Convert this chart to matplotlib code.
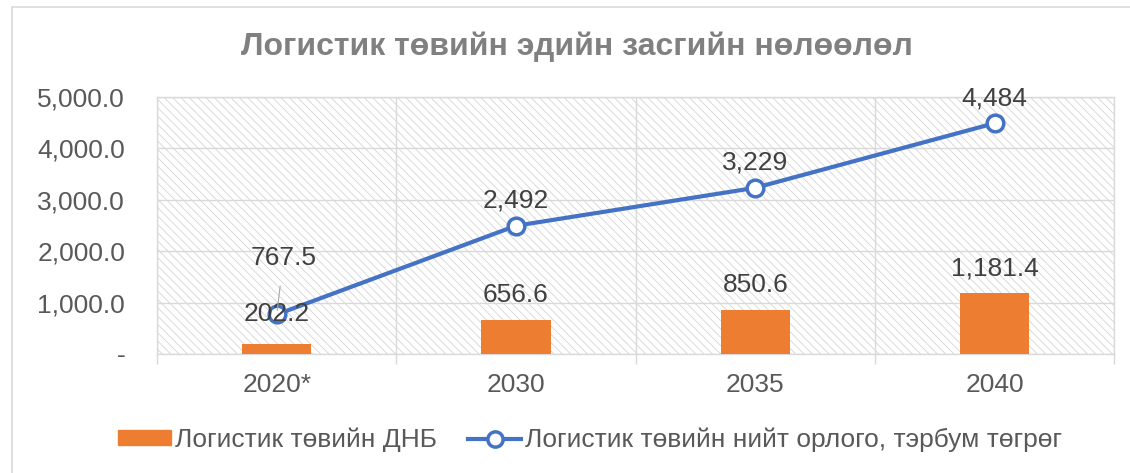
import matplotlib.pyplot as plt
from matplotlib.patches import Rectangle
from matplotlib.lines import Line2D
from matplotlib.ticker import FuncFormatter
import numpy as np

plt.rcParams['font.family'] = ['Liberation Sans', 'DejaVu Sans']
plt.rcParams['hatch.linewidth'] = 0.6

# data
years = ['2020*', '2030', '2035', '2040']
gdp = [202.2, 656.6, 850.6, 1181.4]
income = [767.5, 2492, 3229, 4484]
income_labels = ['767.5', '2,492', '3,229', '4,484']
gdp_labels = ['202.2', '656.6', '850.6', '1,181.4']

title = 'Логистик төвийн эдийн засгийн нөлөөлөл'
gdp_name = 'Логистик төвийн ДНБ'
income_name = 'Логистик төвийн нийт орлого, тэрбум төгрөг'

orange = '#ED7D31'
blue = '#4472C4'
text_col = '#595959'
label_col = '#404040'
grid_col = '#d9d9d9'

fig = plt.figure(figsize=(11.3, 4.73), dpi=100)
ax = fig.add_axes([0.139, 0.2516, 0.847, 0.544])

# outer chart border (cropped at right/bottom)
fig.patches.append(Rectangle((12 / 1130, -0.2), 1.2, 1.2 - 7 / 473,
                             transform=fig.transFigure, fill=False,
                             edgecolor=grid_col, lw=1.2))

# hatched plot area
ax.patch.set_alpha(0)
ax.add_patch(Rectangle((0, 0), 1, 1, transform=ax.transAxes, facecolor='white',
                       edgecolor='#d4d4d4', hatch='\\\\\\\\', lw=0, zorder=0))

x = np.arange(len(years))
ax.bar(x, gdp, width=0.29, color=orange, zorder=3)
ax.plot(x, income, color=blue, lw=3, marker='o', markersize=12,
        markerfacecolor='white', markeredgecolor=blue, markeredgewidth=2.5, zorder=4)

# data labels
for i in range(len(years)):
    ax.annotate(gdp_labels[i], (x[i], gdp[i]), xytext=(0, 18 if i else 21),
                textcoords='offset points', ha='center', va='center',
                fontsize=19, color=label_col, zorder=5)
for i in range(1, len(years)):
    ax.annotate(income_labels[i], (x[i], income[i]), xytext=(0, 18),
                textcoords='offset points', ha='center', va='center',
                fontsize=19, color=label_col, zorder=5)
ax.annotate(income_labels[0], (x[0], income[0]), xytext=(5, 41),
            textcoords='offset points', ha='center', va='center',
            fontsize=19, color=label_col, zorder=5,
            arrowprops=dict(arrowstyle='-', color='#a6a6a6', lw=0.8,
                            shrinkA=10, shrinkB=3))

ax.set_xlim(-0.5, 3.5)
ax.set_ylim(0, 5000)
ax.set_yticks(np.arange(0, 5001, 1000))
ax.yaxis.set_major_formatter(FuncFormatter(lambda v, p: '-' if v == 0 else f'{v:,.1f}'))
ax.set_xticks(x)
ax.set_xticklabels(years)
ax.set_xticks(np.arange(-0.5, 3.6, 1), minor=True)
ax.tick_params(axis='y', length=0, pad=23, labelsize=19, labelcolor=text_col)
ax.tick_params(axis='x', which='major', length=0, pad=14, labelsize=19, labelcolor=text_col)
ax.tick_params(axis='x', which='minor', length=7, color=grid_col, width=1)

ax.grid(axis='y', color=grid_col, lw=1, zorder=1)
ax.grid(axis='x', which='minor', color=grid_col, lw=1, zorder=1)
ax.set_axisbelow(True)
for s in ax.spines.values():
    s.set_color(grid_col)
    s.set_linewidth(1)

fig.text(577 / 1130, 1 - 47 / 473, title, ha='center', va='center',
         fontsize=23, fontweight='bold', color='#808080')

handles = [Rectangle((0, 0), 1, 1, color=orange),
           Line2D([], [], color=blue, lw=3, marker='o', markersize=11,
                  markerfacecolor='white', markeredgecolor=blue, markeredgewidth=2.5)]
fig.legend(handles, [gdp_name, income_name], loc='center', bbox_to_anchor=(590 / 1130, 1 - 440 / 473),
           ncol=2, frameon=False, fontsize=19, labelcolor=text_col,
           handlelength=2.0, handleheight=0.5, handletextpad=0.15, columnspacing=1.2)

plt.savefig('out.png', dpi=100)
